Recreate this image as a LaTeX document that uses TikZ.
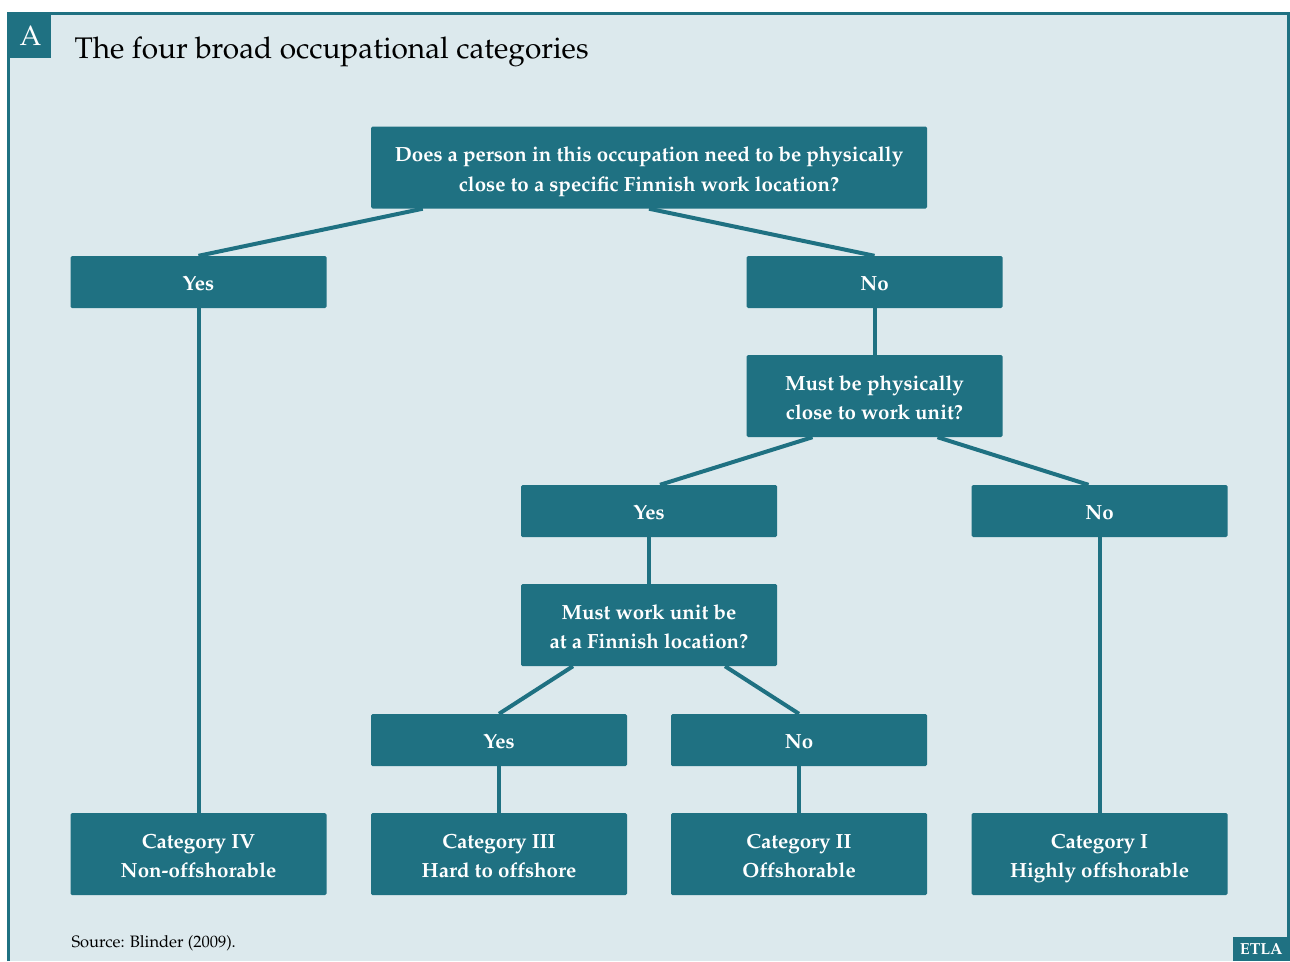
\documentclass[tikz,border=0pt]{standalone}
\usepackage[T1]{fontenc}
\usepackage{mathpazo}
\usetikzlibrary{backgrounds}
\definecolor{etlateal}{RGB}{31,113,130}
\definecolor{etlabg}{RGB}{220,233,237}
\begin{document}
\begin{tikzpicture}[x=1pt, y=-1pt,
    box/.style={fill=etlateal, text=white, font=\fontsize{20.5}{29.5}\selectfont\bfseries, align=center,
        inner sep=0pt, rounded corners=1.5pt, minimum width=256pt,
        execute at begin node={\rule{0pt}{#1}}, execute at end node={\rule[-6pt]{0pt}{6pt}}},
    ans/.style={box=22.4pt, minimum height=52pt},
    quest/.style={box=53pt, minimum height=82pt},
    link/.style={etlateal, line width=4pt}]
    \useasboundingbox (0,0) rectangle (1290,961);

    % Heading
    \node[fill=etlateal, text=white, minimum width=41pt, minimum height=45pt, inner sep=0pt,
        font=\fontsize{28}{28}\selectfont] (tag) at (30.5,35.5) {A};
    \node[anchor=base west, font=\fontsize{29.8}{30}\selectfont] (title) at (71,58.5) {The four broad occupational categories};

    % Decision tree
    \node[quest, minimum width=556pt] (q1) at (649,167.5) {Does a person in this occupation need to be physically\\close to a specific Finnish work location?};
    \node[ans] (yesA) at (198.5,282) {Yes};
    \node[ans] (noA) at (874.5,282) {No};
    \node[quest] (q2) at (874.5,396) {Must be physically\\close to work unit?};
    \node[ans] (yesB) at (649,511) {Yes};
    \node[ans] (noB) at (1099.5,511) {No};
    \node[quest] (q3) at (649,625) {Must work unit be\\at a Finnish location?};
    \node[ans] (yesC) at (499,740) {Yes};
    \node[ans] (noC) at (799,740) {No};

    % Categories
    \node[quest] (cat4) at (198.5,854) {Category IV\\Non-offshorable};
    \node[quest] (cat3) at (499,854) {Category III\\Hard to offshore};
    \node[quest] (cat2) at (799,854) {Category II\\Offshorable};
    \node[quest] (cat1) at (1099.5,854) {Category I\\Highly offshorable};

    % Footer
    \node[anchor=base west, font=\fontsize{16.5}{16.5}\selectfont] (source) at (68,947) {Source: Blinder (2009).};
    \node[anchor=south east, fill=etlateal, text=white, minimum width=57pt, minimum height=24pt, inner sep=0pt,
        font=\fontsize{16}{16}\selectfont\bfseries] (logo) at (1290,961) {ETLA};

    \begin{pgfonlayer}{background}
        \fill[white] (0,0) rectangle (1290,961);
        \fill[etlabg] (8,13) rectangle (1289,961);
        \draw[etlateal, line width=3pt] (8.5,961) -- (8.5,13.5) -- (1288.5,13.5) -- (1288.5,961);
        \draw[link] ([xshift=52pt]q1.south west) -- (yesA.north);
        \draw[link] (q1.south) -- (noA.north);
        \draw[link] (yesA) -- (cat4);
        \draw[link] (noA) -- (q2);
        \draw[link] ([xshift=-62pt]q2.south) -- ([xshift=11pt]yesB.north);
        \draw[link] ([xshift=63pt]q2.south) -- ([xshift=-11pt]noB.north);
        \draw[link] (yesB) -- (q3);
        \draw[link] (noB) -- (cat1);
        \draw[link] ([xshift=-76pt]q3.south) -- (yesC.north);
        \draw[link] ([xshift=76pt]q3.south) -- (noC.north);
        \draw[link] (yesC) -- (cat3);
        \draw[link] (noC) -- (cat2);
    \end{pgfonlayer}
\end{tikzpicture}
\end{document}
